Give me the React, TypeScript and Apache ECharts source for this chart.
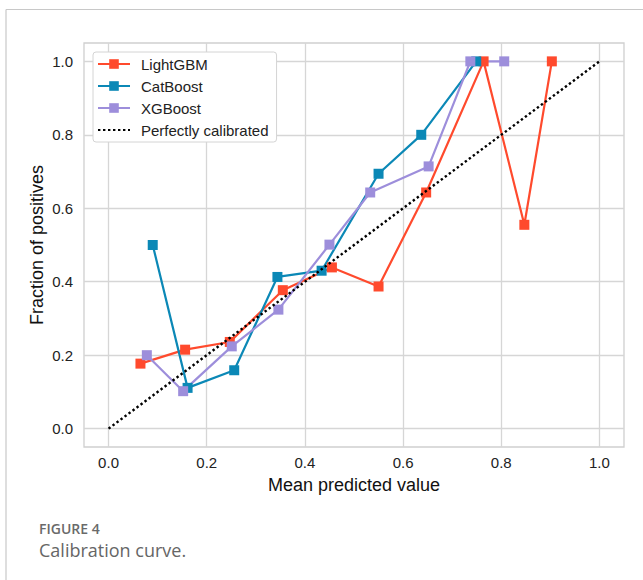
import React, { useEffect, useRef } from "react";
import * as echarts from "echarts";

const seriesNames = ["LightGBM", "CatBoost", "XGBoost"];
const diagonalName = "Perfectly calibrated";
const lightgbmX = [0.065, 0.156, 0.247, 0.355, 0.455, 0.55, 0.647, 0.764, 0.847, 0.903];
const lightgbmY = [0.177, 0.215, 0.236, 0.377, 0.439, 0.387, 0.643, 1.0, 0.555, 1.0];
const catboostX = [0.09, 0.161, 0.256, 0.344, 0.434, 0.55, 0.637, 0.749];
const catboostY = [0.5, 0.111, 0.159, 0.413, 0.43, 0.694, 0.8, 1.0];
const xgboostX = [0.078, 0.152, 0.251, 0.346, 0.45, 0.533, 0.652, 0.737, 0.806];
const xgboostY = [0.2, 0.102, 0.224, 0.324, 0.501, 0.643, 0.714, 1.0, 1.0];
const diagonalX = [0, 1];
const diagonalY = [0, 1];
const tickValues = [0, 0.2, 0.4, 0.6, 0.8, 1.0];
const captionLabel = "FIGURE 4";
const captionText = "Calibration curve.";

const zip = (xs: number[], ys: number[]) => xs.map((x, i) => [x, ys[i]]);

export default function App() {
  const ref = useRef<HTMLDivElement>(null);
  useEffect(() => {
    if (!ref.current) return;
    const chart = echarts.init(ref.current, undefined, { renderer: "svg" });
    const font = "'Liberation Sans', Arial, sans-serif";
    const axisCommon = {
      type: "value",
      min: -0.05,
      max: 1.05,
      axisLine: { show: false },
      axisTick: { show: false, customValues: tickValues },
      axisLabel: {
        customValues: tickValues,
        formatter: (v: number) => v.toFixed(1),
        color: "#222",
        fontSize: 15,
        fontFamily: font,
      },
      splitLine: { show: true, lineStyle: { color: "#d6d6d6", width: 1.3 } },
      nameLocation: "middle",
      nameMoveOverlap: false,
      nameTextStyle: { color: "#111", fontSize: 18, fontFamily: font },
    };
    const lineSeries = (name: string, data: number[][], color: string) => ({
      name,
      type: "line",
      data,
      symbol: "rect",
      symbolSize: 10,
      showSymbol: true,
      lineStyle: { color, width: 2.2 },
      itemStyle: { color },
      z: 3,
    });
    chart.setOption({
      animation: false,
      backgroundColor: "#fff",
      grid: {
        left: 84,
        top: 43,
        right: 19,
        bottom: 133,
        show: true,
        borderColor: "#cfcfcf",
        borderWidth: 1.3,
        backgroundColor: "transparent",
      },
      xAxis: {
        ...axisCommon,
        name: "Mean predicted value",
        nameGap: 29,
        axisLabel: { ...axisCommon.axisLabel, margin: 8 },
      },
      yAxis: {
        ...axisCommon,
        name: "Fraction of positives",
        nameGap: 38,
        axisLabel: { ...axisCommon.axisLabel, margin: 11 },
      },
      legend: {
        orient: "vertical",
        left: 93,
        top: 52,
        data: [
          ...seriesNames,
          { name: diagonalName, itemStyle: { opacity: 0 } },
        ],
        itemWidth: 32,
        itemHeight: 12,
        itemGap: 6,
        padding: [4, 8, 4, 4],
        backgroundColor: "#fff",
        borderColor: "#d4d4d4",
        borderWidth: 1,
        borderRadius: 3,
        textStyle: {
          color: "#222",
          fontSize: 15,
          fontFamily: font,
          lineHeight: 16,
          padding: [0, 0, 0, 6],
        },
      },
      series: [
        lineSeries(seriesNames[0], zip(lightgbmX, lightgbmY), "#FF4A2D"),
        lineSeries(seriesNames[1], zip(catboostX, catboostY), "#0B88B6"),
        lineSeries(seriesNames[2], zip(xgboostX, xgboostY), "#9D8EDB"),
        {
          name: diagonalName,
          type: "line",
          data: zip(diagonalX, diagonalY),
          symbol: "none",
          lineStyle: { color: "#000", width: 2.4, type: [2.4, 2.6] },
          itemStyle: { color: "#000" },
          z: 4,
        },
      ],
      graphic: [
        {
          type: "line",
          shape: { x1: 6, y1: 9.5, x2: 643, y2: 9.5 },
          style: { stroke: "#c8c8c8", lineWidth: 1.2 },
        },
        {
          type: "line",
          shape: { x1: 6, y1: 9.5, x2: 6, y2: 580 },
          style: { stroke: "#c8c8c8", lineWidth: 1.2 },
        },
        {
          type: "text",
          left: 39,
          top: 521,
          style: {
            text: captionLabel,
            fill: "#6a6a6a",
            font: "600 14px 'Open Sans', sans-serif",
            lineHeight: 15,
          },
        },
        {
          type: "text",
          left: 39,
          top: 540,
          style: {
            text: captionText,
            fill: "#666",
            font: "18px 'Open Sans', sans-serif",
            lineHeight: 19,
          },
        },
      ],
    });
    return () => chart.dispose();
  }, []);
  return (
    <div
      ref={ref}
      style={{ position: "absolute", left: 0, top: 0, width: 643, height: 580 }}
    />
  );
}
